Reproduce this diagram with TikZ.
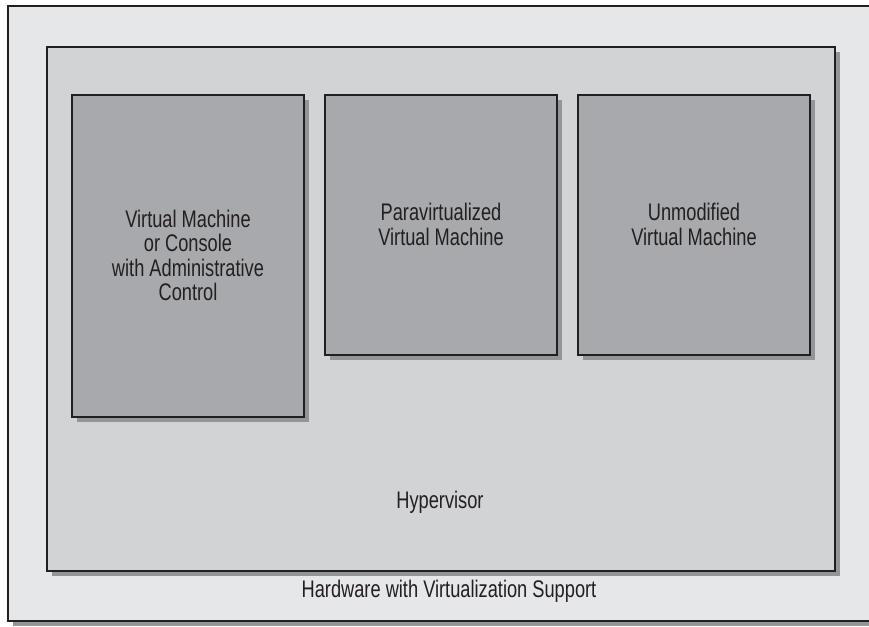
\documentclass[tikz,border=0pt]{standalone}
\usepackage{fontspec}
\setmainfont{Liberation Sans}[FakeStretch=0.76]
\usetikzlibrary{positioning,shadows}

\definecolor{hwgray}{HTML}{E6E7E8}
\definecolor{hvgray}{HTML}{D1D3D4}
\definecolor{vmgray}{HTML}{A7A9AC}
\definecolor{shadowgray}{HTML}{939598}
\definecolor{inkblack}{HTML}{231F20}

\begin{document}
\begin{tikzpicture}[x=1pt,y=-1pt,line width=2pt,
  font=\fontsize{24}{24.5}\selectfont,text=inkblack]
  \tikzstyle{box}=[draw=inkblack,rectangle,inner sep=0pt,outer sep=0pt,align=center,
    drop shadow={shadow xshift=5pt,shadow yshift=-5pt,opacity=1,fill=shadowgray}]
  \tikzstyle{hwbox}=[box,fill=hwgray]
  \tikzstyle{hvbox}=[box,fill=hvgray]
  \tikzstyle{vmbox}=[box,fill=vmgray,minimum width=232pt]
  \tikzstyle{caption}=[inner sep=0pt,text depth=0pt]

  \useasboundingbox (0,0) rectangle (869,626);

  \node[hwbox,minimum width=872pt,minimum height=615pt] (hw) at (444,313.5) {};
  \node[hvbox,minimum width=788pt,minimum height=524pt] (hv) at (441,309) {};

  \node[vmbox,minimum height=322pt] (vm1) at (188,255.5)
    {\raisebox{-2pt}{\parbox{200pt}{\centering Virtual Machine\\or Console\\with Administrative\\Control}}};
  \node[vmbox,minimum height=260pt]
    (vm2) [right=21pt of vm1.north east,anchor=north west]
    {\raisebox{-2pt}{\parbox{200pt}{\centering Paravirtualized\\Virtual Machine}}};
  \node[vmbox,minimum height=260pt]
    (vm3) [right=21pt of vm2.north east,anchor=north west]
    {\raisebox{-2pt}{\parbox{200pt}{\centering Unmodified\\Virtual Machine}}};

  \node[caption] (hvlabel) at (440,500) {Hypervisor};
  \node[caption] (hwlabel) at (449,589) {Hardware with Virtualization Support};
\end{tikzpicture}
\end{document}
